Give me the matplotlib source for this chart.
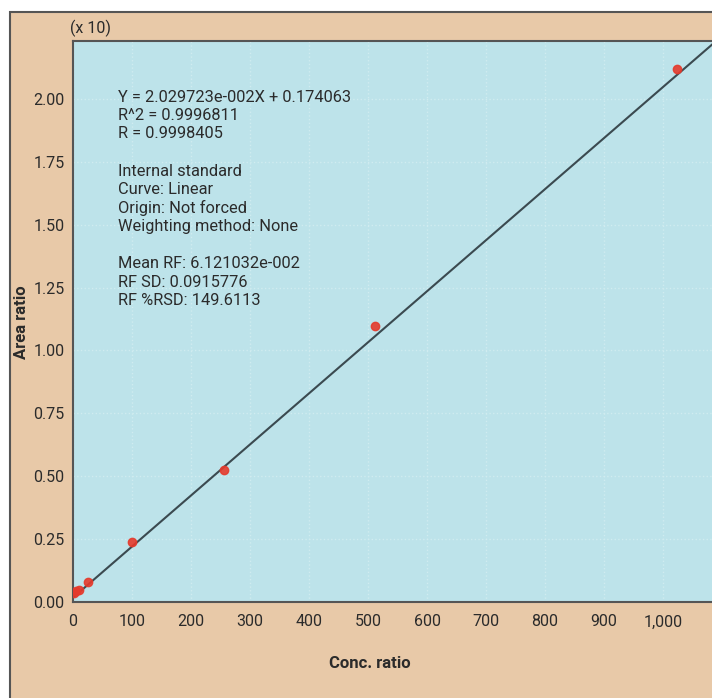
import matplotlib
matplotlib.use("Agg")
import matplotlib.pyplot as plt
from matplotlib.patches import Rectangle
from matplotlib.ticker import FuncFormatter

FIG_BG = "#e8c9a8"
PLOT_BG = "#bde3ea"
GRID = "#d0ecf0"
FRAME = "#555555"
INK = "#2b2b2b"
LINE = "#3b4a50"
POINT = "#e53a2c"

# calibration points (area ratio shown in units of x10)
conc = [2, 5, 10, 25, 100, 256, 512, 1024]
area = [0.035, 0.042, 0.048, 0.080, 0.239, 0.525, 1.097, 2.119]

slope = 2.029723e-002 / 10
intercept = 0.174063 / 10

x_ticks = [0, 100, 200, 300, 400, 500, 600, 700, 800, 900, 1000]
y_ticks = [0.00, 0.25, 0.50, 0.75, 1.00, 1.25, 1.50, 1.75, 2.00]

info_lines = [
    "Y = 2.029723e-002X + 0.174063",
    "R^2 = 0.9996811",
    "R = 0.9998405",
    "",
    "Internal standard",
    "Curve: Linear",
    "Origin: Not forced",
    "Weighting method: None",
    "",
    "Mean RF: 6.121032e-002",
    "RF SD: 0.0915776",
    "RF %RSD: 149.6113",
]

W, H = 712, 698
plt.rcParams["font.family"] = ["Liberation Sans Narrow", "Roboto", "DejaVu Sans"]


def fx(px):
    return px / W


def fy(py):
    return 1 - py / H


fig = plt.figure(figsize=(W / 100, H / 100), dpi=100)
fig.patch.set_facecolor("white")

# beige panel with dark frame, running off the bottom/right edges
panel = Rectangle((fx(10), -0.1), 1.2, fy(12) + 0.1, transform=fig.transFigure,
                  facecolor=FIG_BG, edgecolor=FRAME, linewidth=1.5, zorder=-5)
fig.patches.append(panel)

ax = fig.add_axes([fx(73), fy(602), 1.0 - fx(73), fy(41) - fy(602)])
ax.set_zorder(1)
ax.set_facecolor(PLOT_BG)

ax.set_xlim(0, 1083)
ax.set_ylim(0, 2.23)

ax.plot([0, 1083], [intercept, slope * 1083 + intercept], color=LINE, lw=1.5, zorder=2)
ax.plot(conc, area, "o", color=POINT, ms=6, mec=POINT, alpha=0.9, zorder=3)

ax.set_xticks(x_ticks)
ax.set_yticks(y_ticks)
ax.xaxis.set_major_formatter(FuncFormatter(lambda v, p: f"{v:,.0f}"))
ax.yaxis.set_major_formatter(FuncFormatter(lambda v, p: f"{v:.2f}"))
ax.tick_params(length=0, labelsize=11.5, colors=INK)
ax.tick_params(axis="x", pad=9)
ax.tick_params(axis="y", pad=6)

ax.grid(True, color=GRID, linestyle=":", linewidth=1.0)
ax.set_axisbelow(True)
for side in ("left", "bottom", "top"):
    ax.spines[side].set_color(FRAME)
    ax.spines[side].set_linewidth(1.5)
ax.spines["right"].set_visible(False)

fig.text(fx(370), fy(663), "Conc. ratio", fontsize=12, fontweight="bold", color=INK,
         ha="center", va="center")
fig.text(fx(22), fy(322), "Area ratio", fontsize=12, fontweight="bold", color=INK,
         ha="center", va="center", rotation=90)
fig.text(fx(70), fy(28), "(x 10)", fontsize=11.5, color=INK, ha="left", va="center")

y0 = 97
for i, line in enumerate(info_lines):
    if line:
        ax.text(fx(118), fy(y0 + i * 18.5), line, fontsize=11.8, color=INK,
                ha="left", va="center", transform=fig.transFigure)

fig.savefig("out.png", dpi=100, facecolor=fig.get_facecolor())
